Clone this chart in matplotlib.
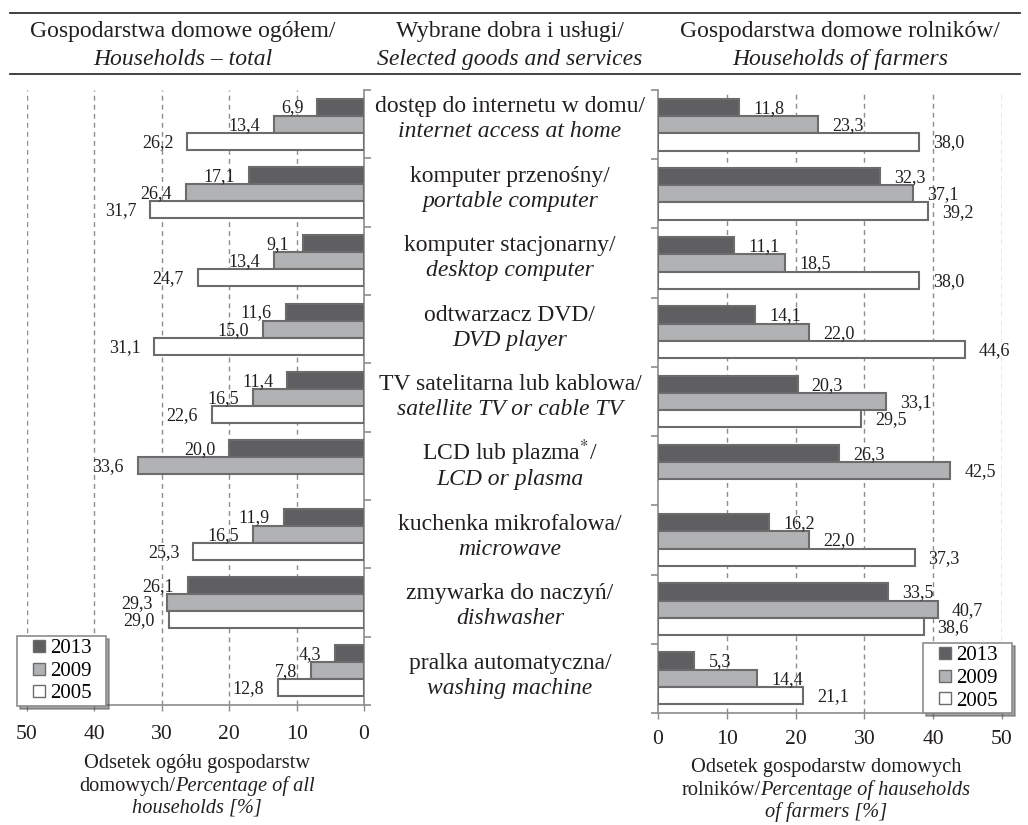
import numpy as np
import matplotlib.pyplot as plt
from matplotlib.lines import Line2D
from matplotlib.offsetbox import TextArea, HPacker, VPacker, AnnotationBbox

plt.rcParams['font.family'] = 'Liberation Serif'
plt.rcParams['mathtext.fontset'] = 'stix'

# Data
categories_pl = ['dostęp do internetu w domu/', 'komputer przenośny/', 'komputer stacjonarny/',
                 'odtwarzacz DVD/', 'TV satelitarna lub kablowa/', 'LCD lub plazma$^{*}$/',
                 'kuchenka mikrofalowa/', 'zmywarka do naczyń/', 'pralka automatyczna/']
categories_en = ['internet access at home', 'portable computer', 'desktop computer',
                 'DVD player', 'satellite TV or cable TV', 'LCD or plasma',
                 'microwave', 'dishwasher', 'washing machine']
years = ['2013', '2009', '2005']

total_2013 = [6.9, 17.1, 9.1, 11.6, 11.4, 20.0, 11.9, 26.1, 4.3]
total_2009 = [13.4, 26.4, 13.4, 15.0, 16.5, 33.6, 16.5, 29.3, 7.8]
total_2005 = [26.2, 31.7, 24.7, 31.1, 22.6, np.nan, 25.3, 29.0, 12.8]

farm_2013 = [11.8, 32.3, 11.1, 14.1, 20.3, 26.3, 16.2, 33.5, 5.3]
farm_2009 = [23.3, 37.1, 18.5, 22.0, 33.1, 42.5, 22.0, 40.7, 14.4]
farm_2005 = [38.0, 39.2, 38.0, 44.6, 29.5, np.nan, 37.3, 38.6, 21.1]

colors = ['#5f5f61', '#b1b2b4', '#ffffff']
edge = '#6c6c6c'
grey = '#8c8c8c'
txt = '#231f20'

W, H = 1028, 825
fig = plt.figure(figsize=(W / 100, H / 100), dpi=100)


def fx(px):
    return px / W


def fy(py):
    return 1 - py / H


ax_l = fig.add_axes([fx(27), fy(705), fx(364 - 27), (705 - 90) / H])
ax_r = fig.add_axes([fx(658), fy(713), fx(1002 - 658), (713 - 90) / H])

n = len(categories_pl)
y = np.arange(n) + 0.5


def draw_panel(ax, series, side):
    for k, vals in enumerate(series):
        vals = np.array(vals)
        ax.barh(y + (k - 1) * 0.25, vals, height=0.25, color=colors[k],
                edgecolor=edge, linewidth=1.5, zorder=3)
        for yy, v in zip(y + (k - 1) * 0.25, vals):
            if np.isnan(v):
                continue
            lab = f'{v:.1f}'.replace('.', ',')
            if side == 'left':
                ax.annotate(lab, (v, yy), xytext=(-14, -1), textcoords='offset pixels',
                            ha='right', va='center', fontsize=13, color=txt, zorder=4)
            else:
                ax.annotate(lab, (v, yy), xytext=(14, -1), textcoords='offset pixels',
                            ha='left', va='center', fontsize=13, color=txt, zorder=4)

    ax.set_ylim(n, 0)
    ax.set_yticks(np.arange(n + 1))
    ax.set_yticklabels([])
    ax.set_xticks([0, 10, 20, 30, 40, 50])
    for g in [10, 20, 30, 40, 50]:
        ax.axvline(g, color=grey, lw=1.0, ls=(0, (3.5, 3)), zorder=1)
    for s in ax.spines.values():
        s.set_visible(False)
    ax.spines['bottom'].set_visible(True)
    ax.spines['bottom'].set_color(grey)
    ax.spines['bottom'].set_linewidth(1.2)
    if side == 'left':
        ax.set_xlim(50, 0)
        ax.yaxis.tick_right()
        ax.spines['right'].set_visible(True)
        ax.spines['right'].set_color(grey)
        ax.spines['right'].set_linewidth(1.2)
        pad = 10.5
    else:
        ax.set_xlim(0, 50)
        ax.spines['left'].set_visible(True)
        ax.spines['left'].set_color(grey)
        ax.spines['left'].set_linewidth(1.2)
        pad = 8
    ax.tick_params(axis='y', direction='out', length=5, width=1.2, color=grey)
    ax.tick_params(axis='x', direction='out', length=4, width=1, color=grey,
                   labelsize=15.6, labelcolor=txt, pad=pad)
    ax.patch.set_alpha(0)


draw_panel(ax_l, [total_2013, total_2009, total_2005], 'left')
draw_panel(ax_r, [farm_2013, farm_2009, farm_2005], 'right')

# Legends
handles = [Line2D([], [], marker='s', markersize=8, linestyle='none', markerfacecolor=c,
                  markeredgecolor=edge, markeredgewidth=1.0) for c in colors]
for ax, (lx, ly) in [(ax_l, (17, 706)), (ax_r, (923, 713))]:
    leg = ax.legend(handles, years, loc='lower left',
                    bbox_to_anchor=(fx(lx), fy(ly), fx(89), 69 / H), mode='expand',
                    bbox_transform=fig.transFigure, fontsize=15, frameon=True, fancybox=False,
                    shadow=True, framealpha=1, edgecolor='#8c8c8c', handlelength=1.85,
                    handletextpad=-0.4, labelspacing=0.15, borderpad=0.12, borderaxespad=0)
    leg.get_frame().set_linewidth(1.2)
    leg.set_zorder(10)

# Header
for py in [13, 74]:
    fig.add_artist(Line2D([fx(10), fx(1020)], [fy(py), fy(py)], color='#333333', lw=1.3))
heads = [(183, 'Gospodarstwa domowe ogółem/', 'Households – total'),
         (510, 'Wybrane dobra i usługi/', 'Selected goods and services'),
         (840, 'Gospodarstwa domowe rolników/', 'Households of farmers')]
for hx, l1, l2 in heads:
    fig.text(fx(hx), fy(37), l1, ha='center', va='baseline', fontsize=17, color=txt)
    fig.text(fx(hx), fy(65), l2, ha='center', va='baseline', fontsize=17, style='italic', color=txt)

# Category labels
for i in range(n):
    b1 = 112 + i * 69.6
    fig.text(fx(510), fy(b1), categories_pl[i], ha='center', va='baseline', fontsize=17, color=txt)
    fig.text(fx(510), fy(b1 + 25), categories_en[i], ha='center', va='baseline', fontsize=17,
             style='italic', color=txt)


# Axis titles with mixed styles
def mixed_label(lines, x, ytop, sep):
    rows = []
    for parts in lines:
        boxes = [TextArea(t, textprops=dict(fontsize=14.7, color=txt,
                                            fontstyle='italic' if it else 'normal'))
                 for t, it in parts]
        rows.append(HPacker(children=boxes, align='baseline', pad=0, sep=0))
    box = VPacker(children=rows, align='center', pad=0, sep=sep)
    ab = AnnotationBbox(box, (x, H - ytop), xycoords='figure pixels', box_alignment=(0.5, 1),
                        frameon=False, pad=0)
    fig.add_artist(ab)


mixed_label([[('Odsetek ogółu gospodarstw', False)],
             [('domowych/', False), ('Percentage of all', True)],
             [('households [%]', True)]], 197, 754, 2)
mixed_label([[('Odsetek gospodarstw domowych', False)],
             [('rolników/', False), ('Percentage of hauseholds', True)],
             [('of farmers [%]', True)]], 826, 758, 2)

fig.savefig('out.png', dpi=100)
